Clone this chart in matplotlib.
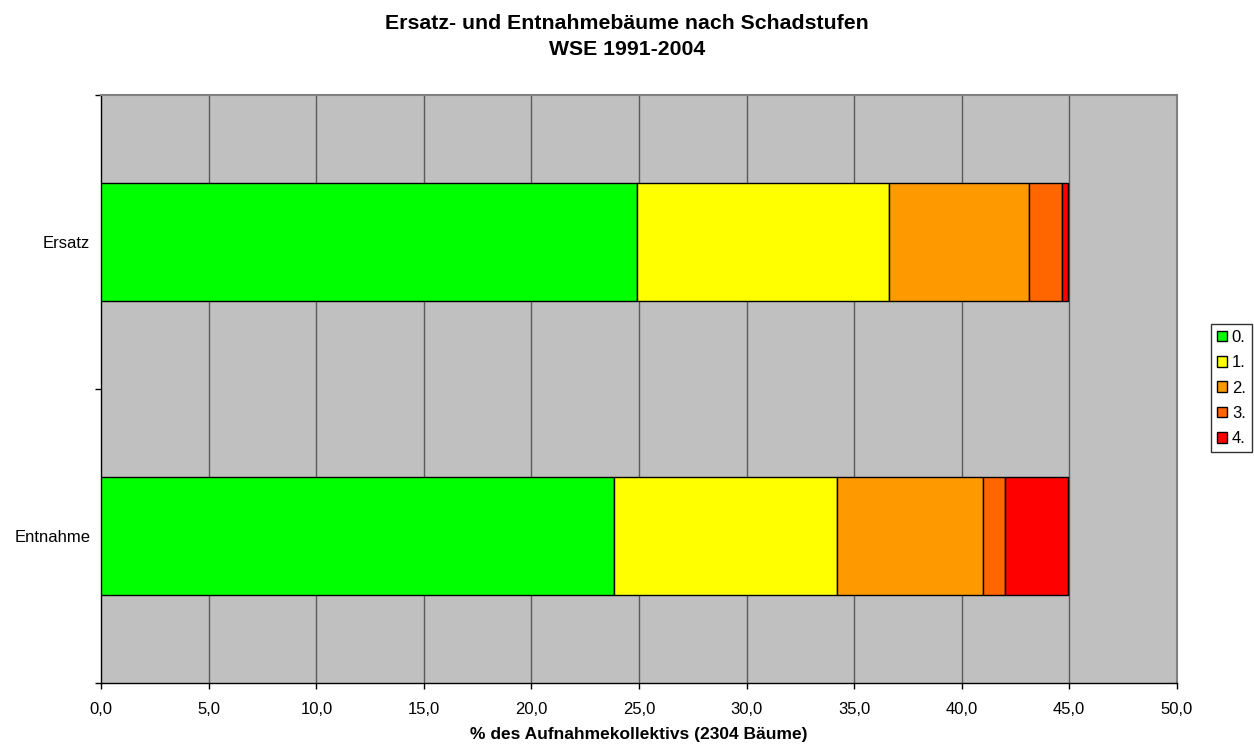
import matplotlib
matplotlib.use("Agg")
import matplotlib.pyplot as plt
from matplotlib.ticker import FuncFormatter, FixedLocator
import numpy as np

plt.rcParams['font.family'] = ['Liberation Sans', 'DejaVu Sans']

# data (percent of 2304 trees)
categories = ["Entnahme", "Ersatz"]
stages = ["0.", "1.", "2.", "3.", "4."]
stage0 = [23.85, 24.90]
stage1 = [10.35, 11.74]
stage2 = [6.80, 6.51]
stage3 = [1.03, 1.52]
stage4 = [2.92, 0.28]
colors = ["#00FF00", "#FFFF00", "#FF9900", "#FF6600", "#FF0000"]

series = [stage0, stage1, stage2, stage3, stage4]

fig = plt.figure(figsize=(12.54, 7.47), dpi=100)
ax = fig.add_axes([0.0808, 0.0861, 0.8576, 0.7867])
ax.set_facecolor("#C0C0C0")

y = np.arange(len(categories))
left = np.zeros(len(categories))
for vals, col, lab in zip(series, colors, stages):
    ax.barh(y, vals, height=0.4, left=left, color=col, edgecolor="black",
            linewidth=1.0, label=lab, zorder=3)
    left += np.array(vals)

ax.set_xlim(0, 50)
ax.set_ylim(-0.5, 1.5)

# vertical gridlines
ax.set_xticks(np.arange(0, 50.1, 5))
ax.xaxis.set_major_formatter(FuncFormatter(lambda v, p: f"{v:.1f}".replace(".", ",")))
for gx in np.arange(5, 50, 5):
    ax.axvline(gx, color="#5a5a5a", linewidth=1.0, zorder=1)

ax.set_yticks(y)
ax.set_yticklabels(categories)
ax.yaxis.set_minor_locator(FixedLocator([-0.5, 0.5, 1.5]))
ax.tick_params(axis="y", which="major", length=0, pad=8, labelsize=12)
ax.tick_params(axis="y", which="minor", length=4, width=1, color="black")
ax.tick_params(axis="x", which="major", length=4, width=1, pad=10, labelsize=12)

for s in ["left", "bottom"]:
    ax.spines[s].set_color("black")
    ax.spines[s].set_linewidth(1.0)
for s in ["top", "right"]:
    ax.spines[s].set_color("#808080")
    ax.spines[s].set_linewidth(1.5)

ax.set_xlabel("% des Aufnahmekollektivs (2304 Bäume)", fontsize=12.5,
              fontweight="bold", labelpad=7)

fig.text(0.5, 1 - 29 / 747, "Ersatz- und Entnahmebäume nach Schadstufen",
         ha="center", va="baseline", fontsize=15.3, fontweight="bold")
fig.text(0.5, 1 - 55 / 747, "WSE 1991-2004",
         ha="center", va="baseline", fontsize=15.3, fontweight="bold")

leg = fig.legend(loc="upper left", bbox_to_anchor=(1211 / 1254, 1 - 324 / 747),
                 frameon=True, fancybox=False, fontsize=12,
                 handlelength=0.6, handleheight=0.6, handletextpad=0.3,
                 labelspacing=0.62, borderpad=0.35, borderaxespad=0)
leg.get_frame().set_edgecolor("black")
leg.get_frame().set_linewidth(1.0)

fig.savefig("out.png", dpi=100)
